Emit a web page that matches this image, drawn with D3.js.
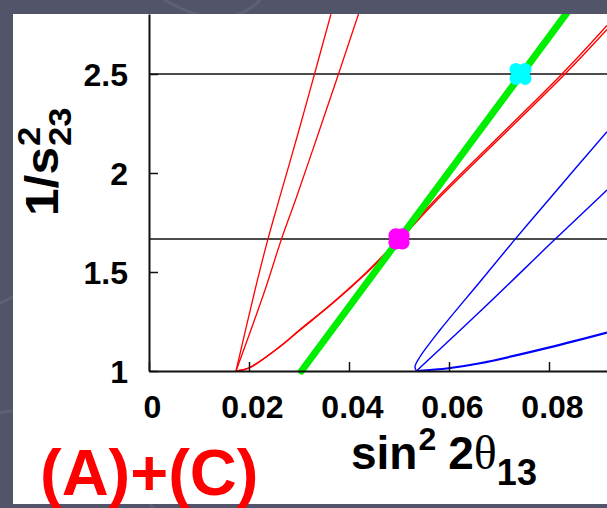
<!DOCTYPE html>
<html>
<head>
<meta charset="utf-8">
<script src="https://cdn.jsdelivr.net/npm/d3@7/dist/d3.min.js"></script>
<style>
  html, body { margin: 0; padding: 0; background: #52556a; }
  svg { display: block; }
  text { font-family: "Liberation Sans", Arial, sans-serif; }
</style>
</head>
<body>
<svg id="chart" width="607" height="508"></svg>
<script>
// Axis ticks and labels
const xTicks = [0, 0.02, 0.04, 0.06, 0.08];
const xTickLabels = ["0", "0.02", "0.04", "0.06", "0.08"];
const yTicks = [1, 1.5, 2, 2.5];
const yTickLabels = ["1", "1.5", "2", "2.5"];
// Horizontal reference levels of 1/s23^2
const refLevels = [2.5, 1.667];

// Red contours: [sin^2 2theta13, 1/s23^2]
const redSteepLeft = [[0.0174, 1.0], [0.0212, 1.409], [0.0238, 1.667], [0.0260, 1.864], [0.0300, 2.217], [0.0331, 2.5], [0.0364, 2.803]];
const redSteepRight = [[0.0174, 1.0], [0.0232, 1.409], [0.0265, 1.667], [0.0293, 1.864], [0.0341, 2.217], [0.0379, 2.5], [0.0419, 2.803]];
const redGentleInner = [[0.0175, 1.0], [0.0200, 1.015], [0.0262, 1.123], [0.0302, 1.207], [0.0368, 1.343], [0.0435, 1.495], [0.0500, 1.659], [0.0576, 1.864], [0.0832, 2.5], [0.0916, 2.725]];
const redGentleOuter = [[0.0175, 1.0], [0.0200, 1.016], [0.0262, 1.124], [0.0302, 1.209], [0.0368, 1.346], [0.0435, 1.499], [0.0500, 1.667], [0.0572, 1.864], [0.0826, 2.5], [0.0916, 2.745]];

// Blue contours
const blueLoopLeft = [[0.0535, 1.0], [0.0532, 1.022], [0.0542, 1.072], [0.0582, 1.207], [0.0662, 1.451], [0.0732, 1.665], [0.0799, 1.864], [0.0916, 2.209]];
const blueLoopRight = [[0.0535, 1.0], [0.0662, 1.300], [0.0812, 1.665], [0.0895, 1.864], [0.0916, 1.914]];
const blueGentle = [[0.0535, 1.0], [0.0599, 1.014], [0.0662, 1.039], [0.0799, 1.118], [0.0916, 1.194]];

// Green band line
const greenLine = [[0.0305, 1.0], [0.0836, 2.81]];

// Highlighted points
const magentaPoint = [0.0500, 1.667];
const cyanPoint = [0.0743, 2.5];

const svg = d3.select("#chart");
const W = 607, H = 508;

// Slide background texture
const bg = svg.append("g");
bg.append("rect").attr("width", W).attr("height", H).attr("fill", "#52556a");
bg.append("path").attr("d", "M-40,330 Q60,250 200,280").attr("fill", "none")
  .attr("stroke", "#ffffff").attr("stroke-opacity", 0.07).attr("stroke-width", 3);
bg.append("path").attr("d", "M-30,420 Q80,380 160,520").attr("fill", "none")
  .attr("stroke", "#ffffff").attr("stroke-opacity", 0.06).attr("stroke-width", 3);
bg.append("path").attr("d", "M150,-10 Q220,40 260,0").attr("fill", "none")
  .attr("stroke", "#ffffff").attr("stroke-opacity", 0.07).attr("stroke-width", 3);

// White panel
svg.append("rect").attr("x", 13).attr("y", 14).attr("width", W - 13).attr("height", 490).attr("fill", "#ffffff");

const x = d3.scaleLinear().domain([0, 0.0916]).range([149, 607]);
const y = d3.scaleLinear().domain([1, 2.803]).range([371, 14]);

svg.append("defs").append("clipPath").attr("id", "plotClip")
  .append("rect").attr("x", 149).attr("y", 14).attr("width", W - 149).attr("height", 365);

const plot = svg.append("g").attr("clip-path", "url(#plotClip)");

// Reference lines
plot.selectAll("line.ref").data(refLevels).join("line")
  .attr("class", "ref")
  .attr("x1", 149).attr("x2", W)
  .attr("y1", d => y(d)).attr("y2", d => y(d))
  .attr("stroke", "#111").attr("stroke-width", 1.4);

const line = d3.line().x(d => x(d[0])).y(d => y(d[1])).curve(d3.curveCatmullRom.alpha(0.5));

function drawCurve(data, color, width) {
  plot.append("path").datum(data).attr("d", line)
    .attr("fill", "none").attr("stroke", color).attr("stroke-width", width)
    .attr("stroke-linejoin", "round");
}

drawCurve(redSteepLeft, "#ff0000", 1.3);
drawCurve(redSteepRight, "#ff0000", 1.3);
drawCurve(redGentleInner, "#ff0000", 1.4);
drawCurve(redGentleOuter, "#ff0000", 1.4);
drawCurve(blueLoopLeft, "#0000ff", 1.4);
drawCurve(blueLoopRight, "#0000ff", 1.4);
drawCurve(blueGentle, "#0000ff", 2.2);

plot.append("path").datum(greenLine)
  .attr("d", d3.line().x(d => x(d[0])).y(d => y(d[1])))
  .attr("fill", "none").attr("stroke", "#00ee00").attr("stroke-width", 7)
  .attr("stroke-linecap", "round");

// Markers built from four overlapping discs
function marker(p, color, off, r) {
  const g = plot.append("g").attr("transform", `translate(${x(p[0])},${y(p[1])})`);
  [[-1, -1], [1, -1], [-1, 1], [1, 1]].forEach(([a, b]) => {
    g.append("circle").attr("cx", a * off).attr("cy", b * off).attr("r", r).attr("fill", color);
  });
}
marker(magentaPoint, "#ff00ff", 3.3, 7.3);
marker(cyanPoint, "#00ffff", 4.6, 6.4);

// Axes
const xAxis = d3.axisBottom(x).tickValues(xTicks)
  .tickFormat((d, i) => xTickLabels[i]).tickSizeInner(-9).tickSizeOuter(0).tickPadding(24);
const yAxis = d3.axisLeft(y).tickValues(yTicks)
  .tickFormat((d, i) => yTickLabels[i]).tickSizeInner(-9).tickSizeOuter(0).tickPadding(21);

const gx = svg.append("g").attr("transform", "translate(0,371)").call(xAxis);
const gy = svg.append("g").attr("transform", "translate(149,0)").call(yAxis);

[gx, gy].forEach(g => {
  g.select(".domain").attr("stroke", "#111").attr("stroke-width", 2);
  g.selectAll(".tick line").attr("stroke", "#111").attr("stroke-width", 1.5);
  g.selectAll(".tick text").attr("fill", "#000").attr("font-size", 32).attr("font-weight", "bold")
    .attr("font-family", "'Liberation Sans', Arial, sans-serif");
});
gx.selectAll(".tick text").attr("dx", 3);
gy.selectAll(".tick text").attr("dy", "0.36em");

// x-axis title: sin^2 2θ13
const xt = svg.append("text").attr("x", 351).attr("y", 469)
  .attr("font-weight", "bold").attr("fill", "#000");
xt.append("tspan").attr("font-size", 46).text("sin");
xt.append("tspan").attr("font-size", 32).attr("dy", -19).attr("dx", 1).text("2");
xt.append("tspan").attr("font-size", 46).attr("dy", 19).attr("dx", 12).text("2");
xt.append("tspan").attr("font-size", 48).attr("font-weight", "normal")
  .attr("font-family", "'Liberation Serif', 'Times New Roman', serif").text("θ");
xt.append("tspan").attr("font-size", 36).attr("dy", 16).text("13");

// y-axis title: 1/s^2_23
const yt = svg.append("g").attr("transform", "translate(58,216) rotate(-90) scale(1.08,1)");
const main = yt.append("text").attr("x", 0).attr("y", 0)
  .attr("font-size", 46).attr("font-weight", "bold").attr("fill", "#000").text("1/s");
const mw = main.node().getComputedTextLength();
yt.append("text").attr("x", mw + 1).attr("y", -18)
  .attr("font-size", 32).attr("font-weight", "bold").attr("fill", "#000").text("2");
yt.append("text").attr("x", mw + 1).attr("y", 13)
  .attr("font-size", 32).attr("font-weight", "bold").attr("fill", "#000").text("23");

// Case label
svg.append("text").attr("x", 40).attr("y", 495)
  .attr("font-size", 65).attr("font-weight", "bold").attr("fill", "#ff0000").text("(A)+(C)");
</script>
</body>
</html>
